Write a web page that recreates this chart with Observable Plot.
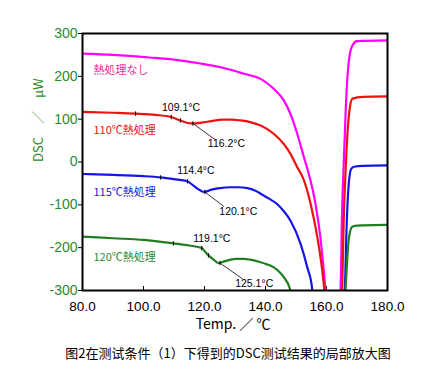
<!DOCTYPE html>
<html><head><meta charset="utf-8">
<script src="https://cdn.jsdelivr.net/npm/d3@7"></script>
<script src="https://cdn.jsdelivr.net/npm/@observablehq/plot@0.6"></script>
<style>
body{margin:0;background:#fff;}
#wrap{position:relative;width:426px;height:384px;}
#cap{position:absolute;left:0;top:343px;width:456px;text-align:center;font:13px "Noto Sans CJK SC",sans-serif;color:#000;}
</style></head><body>
<div id="wrap"><div id="chart"></div><div id="cap">图2在测试条件（1）下得到的DSC测试结果的局部放大图</div></div>
<script>
// Series: temperature (°C) and DSC (μW)
const names = ["熱処理なし", "110℃熱処理", "115℃熱処理", "120℃熱処理"];
const colors = ["#ff00ff", "#ee1111", "#1515e8", "#1f7f1f"];
const labelColors = ["#e8309a", "#ee1111", "#1515e8", "#2a8a2a"];

const t0 = [80,90,102,110,118.7,126,133,138.4,142.7,146,148.2,150.4,152.6,154.2,156.4,158,159.1,159.7,160.3, 164,164.6,165.1,165.7,166.3,166.9,167.6,168.5,170,180];
const v0 = [253,250,244,239,230,220,206,194,171,144,112,66,11,-28,-98,-176,-253,-300,-340, -340,-300,-120,7,120,202,250,272,282,284];

const t1 = [80,90,97.4,104,109.1,112.1,115.4,117,119,121,126.2,129,131.8,135,138.4,142.7,146,148.2,150.4,152.4,154.8,157,158.6,159.3,159.8, 164.6,165.1,165.7,166.2,166.9,167.6,168.5,172,180];
const v1 = [117,115,113,110,105,97,90,90,92,94,99,99,97,93,85,66,42,19,-12,-39,-98,-176,-253,-300,-340, -340,-300,-120,-32,70,124,148,152,153];

const t2 = [80,90,100,105.6,110,114.4,116,117.7,119.7,121,122,125,128.5,131,134.1,137,138.4,141,143.8,146,148.2,151.5,153.7,155.3,155.7, 165.6,166,166.6,167.1,168.1,169.1,172,180];
const v2 = [-28,-30,-33,-36,-40,-45,-53,-62,-70,-68,-65,-61,-59,-59,-61,-68,-74,-85,-98,-115,-137,-191,-246,-296,-340, -340,-300,-150,-70,-16,-11,-9,-8];

const t3 = [80,90,100,109.8,115,119.1,120,121.3,123,124.6,126.5,128.5,130.5,132.8,135,138.4,140.5,142.7,144.5,146,148,148.5, 165.8,166.2,166.7,167.2,168.3,169.3,172,180];
const v3 = [-174,-178,-182,-190,-195,-201,-208,-218,-228,-236,-232,-228,-226,-226,-228,-234,-239,-246,-256,-269,-296,-340, -340,-300,-240,-187,-152,-149,-148,-147];

const temps = [t0, t1, t2, t3];
const vals = [v0, v1, v2, v3];
const rows = temps.flatMap((ts, s) => ts.map((t, i) => ({series: names[s], s, t, v: vals[s][i]})));

// Small cross-ticks on curves
const markT = [97.4,109.1,112.1,116.2, 105.6,114.4,120.1, 109.8,119.1,121.3,125.1];
const markV = [113,105,97,90, -36,-45,-70, -190,-201,-218,-236];
const marks = markT.map((t, i) => ({t, v: markV[i]}));

// Temperature annotations
const annText = ["109.1°C","116.2°C","114.4°C","120.1°C","119.1°C","125.1°C"];
const annT = [112.3,127.2,117.2,131.1,122.4,136.3];
const annV = [127,42,-21,-117,-179,-285];
const ann = annText.map((txt, i) => ({txt, t: annT[i], v: annV[i]}));

// Leader lines (from curve point to label)
const leadT1 = [116.2,120.1,125.1], leadV1 = [90,-70,-236];
const leadT2 = [123.5,126.4,132.5], leadV2 = [52,-104,-273];
const leads = leadT1.map((t, i) => ({t1: t, v1: leadV1[i], t2: leadT2[i], v2: leadV2[i]}));

// Series labels
const slT = [83.6,83.6,83.6,83.6];
const slV = [214,73,-72,-224];
const slabels = names.map((n, i) => ({n, i, t: slT[i], v: slV[i]}));

const xTicks = [80,100,120,140,160,180];
const yTicks = [-300,-200,-100,0,100,200,300];

const tickSym = {draw(ctx, size){ const r = Math.sqrt(size)/2; ctx.moveTo(0,-r); ctx.lineTo(0,r); }};

const chart = Plot.plot({
  width: 426, height: 340,
  marginLeft: 82, marginRight: 39, marginTop: 33, marginBottom: 50,
  style: {fontFamily: "'Liberation Sans', Arial, sans-serif", background: "#fff"},
  x: {domain: [80,180]},
  y: {domain: [-300,300]},
  marks: [
    Plot.axisY({ticks: yTicks, tickSize: 4, tickPadding: 1, tickFormat: d => d < 0 ? "-" + (-d) : String(d),
      fill: "#2a8a2a", fontSize: 14, label: null}),
    Plot.axisX({ticks: xTicks, tickSize: -4, tickPadding: 15, tickFormat: d3.format(".1f"),
      fill: "#000", fontSize: 13.5, label: null}),
    Plot.text(["DSC\u3000／\u3000μW"], {frameAnchor: "left", dx: -44, rotate: -90, fill: "#2a8a2a", fontSize: 13,
      fontFamily: "'Noto Sans CJK JP', sans-serif"}),
    Plot.text(["Temp. ／ ℃"], {frameAnchor: "bottom", lineAnchor: "middle", dy: 34, dx: -2, fill: "#000", fontSize: 14,
      fontFamily: "'Noto Sans CJK JP', sans-serif"}),
    Plot.line(rows, {x: "t", y: "v", z: "series", stroke: d => colors[d.s], strokeWidth: 2.2, clip: true, curve: "monotone-x"}),
    Plot.dot(marks, {x: "t", y: "v", symbol: tickSym, r: 2.5, stroke: "#000", strokeWidth: 1, fill: "none"}),
    Plot.link(leads, {x1: "t1", y1: "v1", x2: "t2", y2: "v2", stroke: "#000", strokeWidth: 0.8}),
    Plot.text(ann, {x: "t", y: "v", text: "txt", fill: "#000", fontSize: 10.5, fontFamily: "'Liberation Sans', Arial, sans-serif"}),
    Plot.text(slabels, {x: "t", y: "v", text: "n", textAnchor: "start", fill: d => labelColors[d.i], fontSize: 11,
      fontFamily: "'Noto Sans CJK JP', sans-serif"}),
    Plot.frame({stroke: "#000", strokeWidth: 2})
  ]
});
document.getElementById("chart").appendChild(chart);
</script>
</body></html>
